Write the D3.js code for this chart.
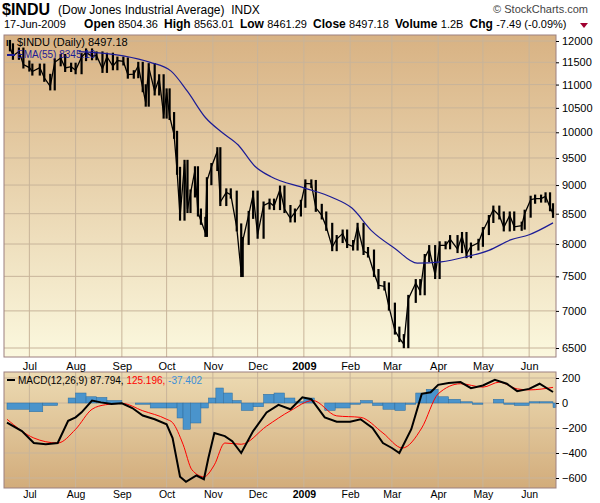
<!DOCTYPE html>
<html>
<head>
<meta charset="utf-8">
<script src="https://d3js.org/d3.v7.min.js"></script>
<style>
body { margin:0; background:#fff; }
text { font-family: "Liberation Sans", Arial, sans-serif; }
</style>
</head>
<body>
<script>
// price, roughly two points per week (date, close)
var priceDates = ["2008-06-18","2008-06-20","2008-06-24","2008-06-27","2008-07-01","2008-07-03","2008-07-08","2008-07-11","2008-07-15","2008-07-18","2008-07-22","2008-07-25","2008-07-29","2008-08-01","2008-08-05","2008-08-08","2008-08-12","2008-08-15","2008-08-19","2008-08-22","2008-08-26","2008-08-29","2008-09-02","2008-09-05","2008-09-09","2008-09-12","2008-09-15","2008-09-17","2008-09-19","2008-09-23","2008-09-26","2008-09-29","2008-10-01","2008-10-03","2008-10-06","2008-10-08","2008-10-10","2008-10-13","2008-10-15","2008-10-17","2008-10-20","2008-10-22","2008-10-24","2008-10-27","2008-10-28","2008-10-31","2008-11-04","2008-11-06","2008-11-10","2008-11-13","2008-11-17","2008-11-20","2008-11-21","2008-11-25","2008-11-28","2008-12-01","2008-12-05","2008-12-09","2008-12-12","2008-12-16","2008-12-19","2008-12-23","2008-12-26","2008-12-30","2009-01-02","2009-01-06","2009-01-09","2009-01-13","2009-01-16","2009-01-20","2009-01-23","2009-01-27","2009-01-30","2009-02-03","2009-02-06","2009-02-10","2009-02-13","2009-02-17","2009-02-20","2009-02-24","2009-02-27","2009-03-03","2009-03-06","2009-03-09","2009-03-12","2009-03-17","2009-03-20","2009-03-23","2009-03-26","2009-03-30","2009-04-02","2009-04-06","2009-04-09","2009-04-14","2009-04-17","2009-04-20","2009-04-23","2009-04-28","2009-05-01","2009-05-05","2009-05-08","2009-05-12","2009-05-15","2009-05-19","2009-05-22","2009-05-27","2009-05-29","2009-06-02","2009-06-05","2009-06-09","2009-06-12","2009-06-15","2009-06-17"];
var priceClose = [11850,11650,11750,11450,11380,11290,11380,11150,10960,11500,11600,11370,11400,11320,11620,11730,11640,11660,11350,11630,11410,11540,11520,11220,11230,11420,10920,10610,11390,10850,11140,10360,10830,10330,9950,9260,8450,9390,8580,8850,9270,8520,8380,8180,9070,9330,9630,8700,8870,8830,8270,7550,8050,8480,8830,8150,8640,8690,8630,8920,8580,8420,8520,8670,9030,9020,8600,8470,8280,7950,8080,8170,8000,7960,8280,7890,7850,7550,7370,7350,7060,6730,6630,6550,7170,7400,7280,7780,7920,7520,7980,7980,8080,7920,8130,7840,7960,8020,8210,8410,8570,8470,8270,8470,8280,8300,8500,8740,8760,8760,8800,8610,8497];
var emaDates = ["2008-08-03","2008-09-02","2008-09-20","2008-10-04","2008-10-15","2008-10-27","2008-11-07","2008-11-18","2008-11-29","2008-12-10","2009-01-01","2009-01-20","2009-02-02","2009-02-16","2009-03-03","2009-03-18","2009-04-03","2009-04-20","2009-05-05","2009-05-20","2009-06-01","2009-06-17"];
var emaValues = [11750,11650,11500,11300,10850,10300,10000,9750,9350,9150,8950,8780,8600,8200,7930,7700,7720,7800,7900,8070,8150,8345];

var macdDates = ["2008-06-16","2008-06-26","2008-07-04","2008-07-12","2008-07-20","2008-07-27","2008-08-01","2008-08-05","2008-08-12","2008-08-18","2008-08-25","2008-09-01","2008-09-08","2008-09-15","2008-09-23","2008-10-01","2008-10-05","2008-10-10","2008-10-14","2008-10-21","2008-10-26","2008-10-29","2008-11-02","2008-11-09","2008-11-14","2008-11-20","2008-11-28","2008-12-07","2008-12-15","2008-12-23","2008-12-31","2009-01-06","2009-01-15","2009-01-23","2009-02-01","2009-02-08","2009-02-16","2009-02-23","2009-03-01","2009-03-06","2009-03-14","2009-03-21","2009-03-27","2009-04-01","2009-04-08","2009-04-16","2009-04-23","2009-05-01","2009-05-09","2009-05-17","2009-05-24","2009-06-01","2009-06-08","2009-06-17"];
var macdValues = [-157,-225,-320,-330,-320,-143,-115,-75,20,5,-8,-3,-40,-100,-130,-170,-280,-590,-630,-580,-610,-440,-240,-265,-305,-400,-225,-75,-15,-50,45,30,-115,-150,-150,-130,-200,-320,-360,-400,-210,73,86,145,160,167,119,140,186,154,95,113,154,88];
var signalDates = ["2008-06-16","2008-07-04","2008-07-20","2008-08-01","2008-08-12","2008-08-21","2008-09-01","2008-09-15","2008-10-01","2008-10-05","2008-10-12","2008-10-18","2008-10-26","2008-11-02","2008-11-09","2008-11-20","2008-12-07","2008-12-23","2009-01-07","2009-01-23","2009-02-08","2009-02-23","2009-03-08","2009-03-21","2009-04-01","2009-04-16","2009-05-01","2009-05-12","2009-05-24","2009-06-01","2009-06-17"];
var signalValues = [-130,-280,-320,-210,-50,-14,-3,-62,-130,-157,-330,-535,-590,-495,-320,-330,-185,-62,20,-103,-115,-240,-360,-200,73,154,127,167,113,105,125];
var histDates = ["2008-06-16","2008-07-01","2008-07-10","2008-07-20","2008-07-27","2008-08-01","2008-08-08","2008-08-15","2008-08-22","2008-09-01","2008-09-10","2008-09-20","2008-10-01","2008-10-08","2008-10-12","2008-10-17","2008-10-24","2008-10-29","2008-11-03","2008-11-08","2008-11-14","2008-11-20","2008-11-28","2008-12-05","2008-12-12","2008-12-19","2008-12-26","2009-01-01","2009-01-08","2009-01-15","2009-01-22","2009-02-01","2009-02-08","2009-02-16","2009-02-23","2009-03-03","2009-03-10","2009-03-17","2009-03-24","2009-04-01","2009-04-08","2009-04-16","2009-04-24","2009-05-01","2009-05-08","2009-05-15","2009-05-22","2009-06-01","2009-06-08","2009-06-17"];
var histValues = [-50,-70,-20,0,40,80,50,45,20,0,-10,-40,-40,-120,-210,-160,-40,40,120,80,20,-60,-30,70,80,40,10,40,0,-60,-40,-10,20,-20,-50,-60,-10,80,110,50,30,10,-10,0,30,-10,-20,10,10,-37];

var priceTicks = [6500,7000,7500,8000,8500,9000,9500,10000,10500,11000,11500,12000];
var macdTicks = [-600,-400,-200,0,200];

var W = 600, H = 503;
var parse = d3.timeParse("%Y-%m-%d");
var svg = d3.select("body").append("svg").attr("width", W).attr("height", H);

var x = d3.scaleTime().domain([parse("2008-06-14"), parse("2009-06-19")]).range([4, 556]);
var pTop = 35, pBot = 357, mTop = 372, mBot = 488, left = 4, right = 556;
var y = d3.scaleLog().domain([6500, 12000]).range([348, 41]);
var ym = d3.scaleLinear().domain([0, 200]).range([403, 378]);

// header
svg.append("text").attr("x", 2).attr("y", 15).attr("font-size", 16).attr("font-weight", "bold").text("$INDU");
svg.append("text").attr("x", 58).attr("y", 14).attr("font-size", 12).attr("xml:space", "preserve").text("(Dow Jones Industrial Average)  INDX");
svg.append("text").attr("x", 588).attr("y", 13).attr("text-anchor", "end").attr("font-size", 11).attr("fill", "#444").text("© StockCharts.com");
var hdr = svg.append("text").attr("x", 4).attr("y", 28).attr("font-size", 11);
[["17-Jun-2009      ", false], ["Open ", true], ["8504.36  ", false], ["High ", true], ["8563.01  ", false], ["Low ", true], ["8461.29  ", false], ["Close ", true], ["8497.18  ", false], ["Volume ", true], ["1.2B  ", false], ["Chg ", true], ["-7.49 (-0.09%)", false]]
  .forEach(function(p) { hdr.append("tspan").attr("font-weight", p[1] ? "bold" : "normal").attr("font-size", p[1] ? 12 : 11).attr("xml:space", "preserve").text(p[0]); });
svg.append("path").attr("d", "M580,23 L588,23 L584,28 Z").attr("fill", "#a00030");

var defs = svg.append("defs");
var g1 = defs.append("linearGradient").attr("id", "gp").attr("x1", 0).attr("y1", 0).attr("x2", 0).attr("y2", 1);
g1.append("stop").attr("offset", "0").attr("stop-color", "#d8b283");
g1.append("stop").attr("offset", "1").attr("stop-color", "#fbf8de");
var g2 = defs.append("linearGradient").attr("id", "gm").attr("x1", 0).attr("y1", 0).attr("x2", 0).attr("y2", 1);
g2.append("stop").attr("offset", "0").attr("stop-color", "#ecdab2");
g2.append("stop").attr("offset", "1").attr("stop-color", "#d2ac7b");

svg.append("rect").attr("x", left).attr("y", pTop).attr("width", right - left).attr("height", pBot - pTop).attr("fill", "url(#gp)");
svg.append("rect").attr("x", left).attr("y", mTop).attr("width", right - left).attr("height", mBot - mTop).attr("fill", "url(#gm)");

var months = x.ticks(d3.timeMonth.every(1)).filter(function(d) { return d > x.domain()[0]; });
function grid(top, bot, ys, sc) {
  svg.append("g").selectAll("line").data(months).enter().append("line")
    .attr("x1", function(d) { return x(d); }).attr("x2", function(d) { return x(d); })
    .attr("y1", top).attr("y2", bot).attr("stroke", "#c8b49a").attr("stroke-width", 1);
  svg.append("g").selectAll("line").data(ys).enter().append("line")
    .attr("x1", left).attr("x2", right)
    .attr("y1", function(d) { return sc(d); }).attr("y2", function(d) { return sc(d); })
    .attr("stroke", "#c8b49a").attr("stroke-width", 1);
}
grid(pTop, pBot, priceTicks, y);
grid(mTop, mBot, macdTicks, ym);

// price bars
var pd = priceDates.map(function(d, i) { return { d: parse(d), c: priceClose[i], o: i ? priceClose[i - 1] : priceClose[i] + 80 }; });
svg.append("g").selectAll("line").data(pd).enter().append("line")
  .attr("x1", function(d) { return x(d.d); }).attr("x2", function(d) { return x(d.d); })
  .attr("y1", function(d) { return y(Math.max(d.o, d.c) * 1.008); })
  .attr("y2", function(d) { return y(Math.min(d.o, d.c) * 0.992); })
  .attr("stroke", "#000").attr("stroke-width", 2.2);
svg.append("path").datum(pd)
  .attr("d", d3.line().x(function(d) { return x(d.d); }).y(function(d) { return y(d.c); }))
  .attr("fill", "none").attr("stroke", "#000").attr("stroke-width", 1.3);
svg.append("path").datum(emaDates.map(function(d, i) { return [parse(d), emaValues[i]]; }))
  .attr("d", d3.line().x(function(d) { return x(d[0]); }).y(function(d) { return y(d[1]); }).curve(d3.curveMonotoneX))
  .attr("fill", "none").attr("stroke", "#1c1c96").attr("stroke-width", 1.2);

// MACD histogram
var hd = histDates.map(function(d, i) { return { d: parse(d), v: histValues[i] }; });
svg.append("g").selectAll("rect").data(hd).enter().append("rect")
  .attr("x", function(d) { return x(d.d); })
  .attr("width", function(d, i) { return i < hd.length - 1 ? x(hd[i + 1].d) - x(d.d) : 3; })
  .attr("y", function(d) { return ym(Math.max(0, d.v)); })
  .attr("height", function(d) { return Math.abs(ym(d.v) - ym(0)); })
  .attr("fill", "#4a94cc").attr("stroke", "#2e6c9c").attr("stroke-width", 0.5);
svg.append("path").datum(signalDates.map(function(d, i) { return [parse(d), signalValues[i]]; }))
  .attr("d", d3.line().x(function(d) { return x(d[0]); }).y(function(d) { return ym(d[1]); }).curve(d3.curveMonotoneX))
  .attr("fill", "none").attr("stroke", "#ff0000").attr("stroke-width", 1);
svg.append("path").datum(macdDates.map(function(d, i) { return [parse(d), macdValues[i]]; }))
  .attr("d", d3.line().x(function(d) { return x(d[0]); }).y(function(d) { return ym(d[1]); }))
  .attr("fill", "none").attr("stroke", "#000").attr("stroke-width", 2);

// borders
[[pTop, pBot], [mTop, mBot]].forEach(function(p) {
  svg.append("rect").attr("x", left).attr("y", p[0]).attr("width", right - left).attr("height", p[1] - p[0])
    .attr("fill", "none").attr("stroke", "#9c8080");
});

// axes
function yaxis(sc, ticks, fmt) {
  var g = svg.append("g").attr("transform", "translate(" + right + ",0)")
    .call(d3.axisRight(sc).tickValues(ticks).tickSize(3).tickFormat(fmt));
  g.select(".domain").remove();
  g.selectAll("text").attr("font-size", 11).attr("fill", "#000").attr("font-family", "Liberation Sans");
}
yaxis(y, priceTicks, d3.format("d"));
yaxis(ym, macdTicks, d3.format("d"));
function xaxis(yy, fs) {
  var g = svg.append("g").attr("transform", "translate(0," + yy + ")")
    .call(d3.axisBottom(x).tickValues(months).tickSize(0).tickPadding(2)
      .tickFormat(function(d) { return d.getMonth() === 0 ? d3.timeFormat("%Y")(d) : d3.timeFormat("%b")(d); }));
  g.select(".domain").remove();
  g.selectAll("text").attr("font-size", fs).attr("fill", "#000").attr("font-family", "Liberation Sans")
    .attr("font-weight", function(d) { return d.getMonth() === 0 ? "bold" : "normal"; });
}
xaxis(pBot + 3, 11);
xaxis(mBot + 1, 10.5);

// legends
svg.append("text").attr("x", 17).attr("y", 46).attr("font-size", 11).attr("font-family", "DejaVu Sans").text("$INDU (Daily) 8497.18");
svg.append("text").attr("x", 6).attr("y", 46).attr("font-size", 9).attr("font-weight", "bold").text("\u0399\u0399");
svg.append("line").attr("x1", 7).attr("x2", 15).attr("y1", 55).attr("y2", 55).attr("stroke", "#1c1c96").attr("stroke-width", 2);
svg.append("text").attr("x", 17).attr("y", 58).attr("font-size", 10).attr("font-family", "DejaVu Sans").attr("fill", "#1c1c96").text("EMA(55) 8345.10");
svg.append("line").attr("x1", 7).attr("x2", 15).attr("y1", 380).attr("y2", 380).attr("stroke", "#000").attr("stroke-width", 2);
var ml = svg.append("text").attr("x", 18).attr("y", 384).attr("font-size", 10).attr("font-family", "DejaVu Sans");
ml.append("tspan").attr("fill", "#000").text("MACD(12,26,9) 87.794, ");
ml.append("tspan").attr("fill", "#ff0000").text("125.196, ");
ml.append("tspan").attr("fill", "#3a8ed8").text("-37.402");
</script>
</body>
</html>
